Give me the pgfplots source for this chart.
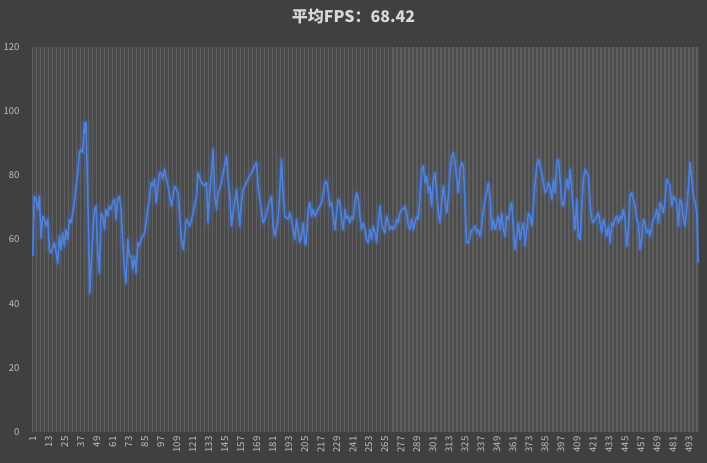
\documentclass[border=0pt]{standalone}
\usepackage{pgfplots}
\usepackage{pgfplotstable}
\pgfplotsset{compat=1.18}
\usepackage{fontspec}
\setmainfont{Noto Sans CJK SC}
\definecolor{bgc}{HTML}{404040}
\definecolor{plotbg}{HTML}{4B4B4B}
\definecolor{gridc}{HTML}{5E5E5E}
\definecolor{tickc}{HTML}{BFBFBF}
\definecolor{titlec}{HTML}{D9D9D9}
\definecolor{linec}{HTML}{4F81DA}
\definecolor{glowc}{HTML}{3F72D6}
\pgfplotstableread{
x y
1 54.8
2.3 73.5
3.5 72.5
4.8 69.4
6 73.5
7.3 60.5
8.5 67.3
9.8 66.3
11 64.2
12.3 66.3
13.5 56.9
14.8 55.8
17.3 59
19.8 52.7
21 61
22.3 56.9
23.5 62.1
24.8 57.9
26 63.1
27.3 60
28.5 66.3
29.8 65.2
31 68.3
32.3 71.5
33.5 76.7
34.8 80.8
36 87.1
37.3 88.1
38.5 87.1
39.8 96.5
40.3 93.3
41 96.5
41.8 81.9
42.8 64.2
43.8 43.3
44.8 51.7
46 61
47.3 69.4
48.5 70.4
49.8 55.8
51 49.6
52.3 68.3
53.5 67.3
54.8 63.1
56 69.4
57.3 67.3
58.5 70.4
59.8 69.4
61 71.5
62.3 72.5
63.5 66.3
64.8 72.5
66 73.5
67.3 69.4
68.5 59
69.8 50.6
71 46.5
72.3 60
73.5 54.8
74.8 54.8
76 50.6
77.3 54.8
78.5 49.6
79.8 59
81 58
82.3 60
83.5 61
84.8 62.1
86 65.2
87.3 69.4
88.5 72.5
89.8 77.7
91 76.7
92.3 78.8
93.5 71.5
94.8 75.6
96 80.8
97.3 80.8
98.5 78.8
99.8 81.9
101.3 78.8
102.5 76.6
105 70.4
107.5 76.6
110 74.6
112.5 60
113.8 56.9
116.3 66.3
118.8 64.2
121.3 68.3
123.8 73.5
125 80.8
127.5 77.7
130 76.7
131.3 77.7
132.5 65.2
133.8 74.6
136.3 88.1
137.5 73.5
138.8 69.4
140 74.6
142.5 77.7
143.8 80.8
146.3 86
147.5 78.8
148.8 73.5
150 64.2
151.3 68.3
153.8 75.6
155 70.4
156.3 64.2
157.5 71.5
158.8 75.6
160 76.7
162.5 78.8
165 80.8
168.8 84
170 76.7
171.3 72.5
173.8 65.2
175 66.3
177.5 70.4
180 73.5
181.3 64.2
182.5 61
185 66.3
186.3 75.6
187.5 85
188.8 73.5
190 67.3
192.5 66.3
193.8 68.3
196.3 63.1
197.5 60
198.8 66.3
201.3 59
202.5 61
203.8 65.2
205 59
205.8 58.4
207.6 69.4
208.8 71.5
210.1 67.3
211.3 69.4
212.6 67.3
213.8 68.3
215.1 69.4
217.6 71.5
218.8 74.6
220.1 77.7
221.3 78.2
222.6 74.6
223.8 70.4
225.1 71.5
226.3 67.3
227.6 63.1
228.8 68.3
230.1 72.5
231.3 71.5
232.6 66.3
233.8 63.1
235.1 69.4
236.3 66.3
237.6 67.3
238.8 65.2
240.1 67.3
241.3 66.3
242.6 71.5
243.8 74.6
245.1 72.5
246.3 67.3
247.6 63.1
248.8 65.2
250.1 63.1
251.3 60
252.6 59
253.8 63.1
255.1 60
256.3 64.2
257.6 62.1
258.8 59
260.1 65.2
261.3 70.4
262.6 65.2
263.8 63.1
265.1 62.1
266.3 67.3
267.6 65.2
268.8 63.1
270.1 64.2
271.3 63.1
272.6 64.2
273.8 66.3
275.1 65.2
276.3 68.3
277.6 69.4
278.8 69.4
280.1 70.4
281.3 68.3
282.6 64.2
283.8 63.1
285.1 66.3
286.3 63.1
287.6 65.2
288.8 67.3
290.1 66.3
291.3 73.5
292.6 81.9
293.8 82.9
295.1 77.7
296.3 79.8
297.6 74.6
298.8 76.7
300.1 70.4
301.3 78.8
302.6 80.8
303.8 74.6
305.1 68.3
306.3 65.2
307.6 71.5
308.9 76.7
310.1 72.5
311.4 68.3
312.6 73.5
313.9 80.8
315.1 86
316.4 87.1
317.6 84
318.9 78.8
320.1 74.6
321.4 81.9
322.6 84
323.9 82.9
325.1 70.4
326.4 59
327.6 59
328.9 61
330.1 63.1
331.4 63.1
332.6 64.2
333.9 62.1
335.1 63.1
336.4 61
337.6 64.2
338.9 69.4
340.1 72.5
341.4 74.6
342.6 77.7
343.9 73.5
345.1 63.1
346.4 66.3
347.6 63.1
348.9 65.2
350.1 67.3
351.4 63.1
352.6 68.3
353.9 63.1
355.1 61
356.4 67.3
357.6 66.3
358.9 69.4
360.1 71.5
361.4 63.1
362.6 56.9
363.9 61
365.1 65.2
366.4 60
367.6 63.1
368.9 65.2
370.1 58
371.4 63.1
372.6 68.3
373.9 67.3
375.1 64.2
376.4 70.4
377.6 77.7
378.9 82.9
380.1 85
381.4 82.9
382.6 80.8
383.9 77.7
385.1 74.6
386.4 75.6
387.6 77.7
388.9 76.7
390.1 72.5
391.4 78.8
392.6 74.6
393.9 84
395.1 85
396.4 78.8
397.6 71.5
398.9 70.4
400.1 74.6
401.4 78.8
402.6 75.6
403.9 81.9
405.1 75
406.4 68.3
407.6 63.1
408.8 72.5
410.1 61
411.3 60
412.6 69.4
413.8 78.8
415.1 81.9
416.3 80.8
417.6 79.8
418.8 71.5
420.1 66.3
421.3 65.2
422.6 66.3
423.8 67.3
425.1 68.3
426.3 65.2
427.6 62.1
428.8 66.3
430.1 64.2
431.3 61
432.6 64.2
433.8 59
435.1 65.2
436.3 64.2
437.6 66.3
438.8 67.3
440.1 65.2
441.3 67.3
442.6 66.3
443.8 69.4
445.1 66.3
446.3 57.9
447.6 63.1
448.8 73.5
450.1 74.6
451.3 72.5
452.6 70.4
453.8 66.3
455.1 65.2
456.3 56.9
457.6 60
458.8 66.3
460.1 65.2
461.3 62.1
462.6 63.1
463.8 61
465.1 64.2
466.3 66.3
467.6 67.3
468.8 69.4
470.1 65.2
471.3 71.5
472.6 70.4
473.8 68.3
475.1 72.5
476.3 78.8
477.6 77.7
478.8 76.7
480.1 70.4
481.3 73.5
482.6 72.5
483.8 71.5
485.1 64.2
486.3 72.5
487.6 71.5
488.8 66.3
490.1 64.2
491.3 69.4
492.6 76.7
493.8 84
495.1 78.8
496.3 73.5
497.6 71.5
498.8 68.3
500 52.8
}\fpsdata
\begin{document}
\begin{tikzpicture}
\fill[bgc] (0,0) rectangle (707pt,463pt);
\useasboundingbox (0,0) rectangle (707pt,463pt);
\node[font=\fontsize{16}{16}\selectfont\bfseries, text=titlec, inner sep=0pt] at (353.5pt,447pt) {平均FPS：68.42};
\begin{axis}[
  at={(32pt,31pt)}, anchor=south west,
  scale only axis, width=667pt, height=385pt,
  xmin=0.5, xmax=500.5, ymin=0, ymax=120,
  ytick={0,20,...,120},
  xtick={1,13,...,493},
  minor xtick={1,4,...,500},
  xminorgrids=true,
  minor x grid style={color=gridc, line width=1.3pt},
  axis background/.style={fill=plotbg},
  axis line style={draw=none},
  major tick length=0pt, minor tick length=0pt,
  tick style={draw=none},
  /pgf/number format/assume math mode=true,
  ticklabel style={text=tickc, font=\fontsize{9.5}{9.5}\selectfont},
  xticklabel style={rotate=90, anchor=east, xshift=-1pt},
  yticklabel style={anchor=east, xshift=-9pt},
  clip=true,
]
\addplot[glowc, line width=8pt, opacity=0.12, line join=round] table {\fpsdata};
\addplot[glowc, line width=4.5pt, opacity=0.25, line join=round] table {\fpsdata};
\addplot[linec, line width=1.5pt, line join=round] table {\fpsdata};
\end{axis}
\end{tikzpicture}
\end{document}
